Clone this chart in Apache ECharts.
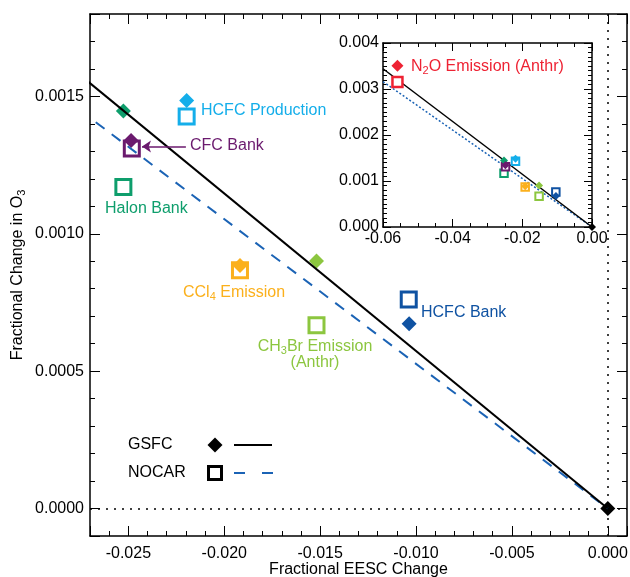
<!DOCTYPE html>
<html>
<head>
<meta charset="utf-8">
<script src="https://cdn.jsdelivr.net/npm/echarts@6/dist/echarts.min.js"></script>
<style>
  html, body { margin: 0; padding: 0; background: #fff; }
  #main { width: 630px; height: 577px; }
</style>
</head>
<body>
<div id="main"></div>
<script>
// one colour per source
var sources = ['Halon Bank', 'CFC Bank', 'HCFC Production', 'CCl4 Emission',
  'CH3Br Emission (Anthr)', 'HCFC Bank', 'N2O Emission (Anthr)', 'Total'];
var colors = ['#0e9e6c', '#6b1a6e', '#14aeea', '#fbb01c', '#8cc63f', '#0f52a2', '#ee2233', '#000000'];

// GSFC model (diamonds)
var gsfcEesc = [-0.02526, -0.02486, -0.02196, -0.01918, -0.01519, -0.01036, -0.05585, 0.0];
var gsfcO3   = [0.001447, 0.001340, 0.001485, 0.000885, 0.000901, 0.000673, 0.003507, 0.0];

// NOCAR model (squares)
var nocarEesc = [-0.02526, -0.02482, -0.02196, -0.01918, -0.01519, -0.01038, -0.05585];
var nocarO3   = [0.001170, 0.001310, 0.001427, 0.000867, 0.000667, 0.000761, 0.003150];

// fitted lines through the origin
var gsfcFit  = [[-0.06, 0.00344], [0, 0]];
var nocarFit = [[-0.06, 0.00316], [0, 0]];

// arrow pointing at the CFC Bank square
var cfcArrow = [[-0.02200, 0.001318], [-0.02429, 0.001318]];

var FONT = '"Liberation Sans", Arial, Helvetica, sans-serif';

function pts(xs, ys, big, small, inset) {
  return xs.map(function (x, i) {
    return {
      name: sources[i],
      value: [x, ys[i]],
      symbolSize: inset ? (i === 6 ? big : small) : big,
      itemStyle: { color: colors[i], opacity: 1 }
    };
  });
}
function boxes(xs, ys, size, bw, inset) {
  return xs.map(function (x, i) {
    var s = inset ? (i === 6 ? 10 : size) : size;
    var w = inset ? (i === 6 ? 2.5 : bw) : bw;
    return {
      name: sources[i],
      value: [x, ys[i]],
      symbolSize: s,
      itemStyle: { color: '#fff', borderColor: colors[i], borderWidth: w, opacity: 1 }
    };
  });
}

function valAxis(o) {
  var a = {
    type: 'value',
    gridIndex: o.grid,
    position: o.pos,
    min: o.min, max: o.max,
    splitLine: { show: false },
    axisLine: { show: true, onZero: false, lineStyle: { color: '#000', width: 1.5 } },
    axisTick: { show: true, inside: true, length: o.tl, lineStyle: { color: '#000', width: 1 } },
    minorTick: { show: true, splitNumber: o.minor, length: o.tl / 2, lineStyle: { color: '#000', width: 1 } },
    axisLabel: { show: !!o.fmt, formatter: o.fmt, color: '#000', fontSize: 16, fontFamily: FONT,
      margin: o.margin || 8, showMinLabel: o.showMin, showMaxLabel: o.showMax }
  };
  if (o.interval) a.interval = o.interval;
  if (o.split) a.splitNumber = o.split;
  return a;
}

var chart = echarts.init(document.getElementById('main'));

var subRich = function (c) {
  return { sub: { fontSize: 11, fontFamily: FONT, fill: c, color: c, padding: [7, 0, 0, 0] } };
};

function note(text, x, y, c, align) {
  return {
    type: 'text', x: x, y: y, z: 100,
    style: {
      text: text, fill: c, fontSize: 16, fontFamily: FONT,
      align: align || 'left', verticalAlign: 'middle', lineHeight: 16,
      rich: subRich(c)
    }
  };
}

var option = {
  animation: false,
  backgroundColor: '#fff',
  grid: [
    { left: 90, top: 14, right: 3, bottom: 41, containLabel: false, outerBoundsMode: 'none' },
    { left: 383, top: 43, right: 38, bottom: 350, containLabel: false, outerBoundsMode: 'none' }
  ],
  xAxis: [
    Object.assign(valAxis({ grid: 0, pos: 'bottom', min: -0.027, max: 0.001, split: 5, minor: 5, tl: 10,
      fmt: function (v) { return v.toFixed(3); }, showMin: false, showMax: false, margin: 10 }), {
      name: 'Fractional EESC Change', nameLocation: 'middle', nameGap: 26, nameMoveOverlap: false,
      nameTextStyle: { color: '#000', fontSize: 16, fontFamily: FONT, verticalAlign: 'top', lineHeight: 16 }
    }),
    valAxis({ grid: 0, pos: 'top', min: -0.027, max: 0.001, split: 5, minor: 5, tl: 10 }),
    valAxis({ grid: 1, pos: 'bottom', min: -0.06, max: 0, interval: 0.02, minor: 4, tl: 8,
      fmt: function (v) { return v.toFixed(2); }, margin: 4 }),
    valAxis({ grid: 1, pos: 'top', min: -0.06, max: 0, interval: 0.02, minor: 4, tl: 8 })
  ],
  yAxis: [
    Object.assign(valAxis({ grid: 0, pos: 'left', min: -0.0001, max: 0.0018, split: 4, minor: 5, tl: 10,
      fmt: function (v) { return v.toFixed(4); }, showMin: false, showMax: false, margin: 6 }), {
      name: 'Fractional Change in O{sub|3}', nameLocation: 'middle', nameGap: 63, nameMoveOverlap: false,
      nameTextStyle: { color: '#000', fontSize: 16, fontFamily: FONT,
        rich: { sub: { fontSize: 11, color: '#000', fontFamily: FONT, padding: [7, 0, 0, 0] } } }
    }),
    valAxis({ grid: 0, pos: 'right', min: -0.0001, max: 0.0018, split: 4, minor: 5, tl: 10 }),
    valAxis({ grid: 1, pos: 'left', min: 0, max: 0.004, interval: 0.001, minor: 10, tl: 8,
      fmt: function (v) { return v.toFixed(3); }, margin: 4 }),
    valAxis({ grid: 1, pos: 'right', min: 0, max: 0.004, interval: 0.001, minor: 10, tl: 8 })
  ],
  series: [
    // main panel
    {
      name: 'NOCAR', type: 'scatter', xAxisIndex: 0, yAxisIndex: 0, symbol: 'rect', z: 2,
      data: boxes(nocarEesc, nocarO3, 15, 3, false),
      markLine: {
        silent: true, symbol: ['none', 'arrow'], symbolSize: 9, animation: false,
        label: { show: false },
        lineStyle: { color: colors[1], width: 1.5, type: 'solid' },
        data: [[{ coord: cfcArrow[0] }, { coord: cfcArrow[1] }]]
      }
    },
    {
      name: 'GSFC', type: 'scatter', xAxisIndex: 0, yAxisIndex: 0, symbol: 'diamond', z: 3,
      data: pts(gsfcEesc, gsfcO3, 15, 15, false)
    },
    {
      name: 'NOCAR fit', type: 'line', xAxisIndex: 0, yAxisIndex: 0, symbol: 'none', z: 4,
      data: nocarFit, lineStyle: { color: '#1b63b5', width: 2, type: [11, 9] }
    },
    {
      name: 'GSFC fit', type: 'line', xAxisIndex: 0, yAxisIndex: 0, symbol: 'none', z: 4,
      data: gsfcFit, lineStyle: { color: '#000', width: 2 },
      markLine: {
        silent: true, symbol: 'none', animation: false, label: { show: false },
        lineStyle: { color: '#000', width: 1.5, type: [2, 6] },
        data: [{ xAxis: 0 }, { yAxis: 0 }]
      }
    },
    // inset panel
    {
      name: 'NOCAR fit inset', type: 'line', xAxisIndex: 2, yAxisIndex: 2, symbol: 'none', z: 2,
      data: nocarFit, lineStyle: { color: '#1b63b5', width: 1.5, type: [2, 2] }
    },
    {
      name: 'GSFC fit inset', type: 'line', xAxisIndex: 2, yAxisIndex: 2, symbol: 'none', z: 2,
      data: gsfcFit, lineStyle: { color: '#000', width: 1.5 }
    },
    {
      name: 'NOCAR inset', type: 'scatter', xAxisIndex: 2, yAxisIndex: 2, symbol: 'rect', z: 3,
      data: boxes(nocarEesc, nocarO3, 7.5, 2, true)
    },
    {
      name: 'GSFC inset', type: 'scatter', xAxisIndex: 2, yAxisIndex: 2, symbol: 'diamond', z: 4,
      data: pts(gsfcEesc, gsfcO3, 12, 8, true)
    }
  ],
  graphic: [
    note('HCFC Production', 201, 111, colors[2]),
    note('CFC Bank', 190, 146, colors[1]),
    note('Halon Bank', 105, 209, colors[0]),
    note('CCl{sub|4} Emission', 183, 293, colors[3]),
    note('CH{sub|3}Br Emission\n(Anthr)', 315, 355, colors[4], 'center'),
    note('HCFC Bank', 421, 313, colors[5]),
    note('N{sub|2}O Emission (Anthr)', 411, 67, colors[6]),
    // legend
    note('GSFC', 128, 445, '#000'),
    { type: 'polygon', z: 100, shape: { points: [[215, 437.5], [222.5, 445], [215, 452.5], [207.5, 445]] }, style: { fill: '#000' } },
    { type: 'line', z: 100, shape: { x1: 234, y1: 445, x2: 272, y2: 445 }, style: { stroke: '#000', lineWidth: 2 } },
    note('NOCAR', 128, 473, '#000'),
    { type: 'rect', z: 100, shape: { x: 208.5, y: 466.5, width: 13, height: 13 }, style: { fill: '#fff', stroke: '#000', lineWidth: 3 } },
    { type: 'line', z: 100, shape: { x1: 234, y1: 473, x2: 245, y2: 473 }, style: { stroke: '#1b63b5', lineWidth: 2 } },
    { type: 'line', z: 100, shape: { x1: 262, y1: 473, x2: 273, y2: 473 }, style: { stroke: '#1b63b5', lineWidth: 2 } }
  ]
};

chart.setOption(option);
</script>
</body>
</html>
